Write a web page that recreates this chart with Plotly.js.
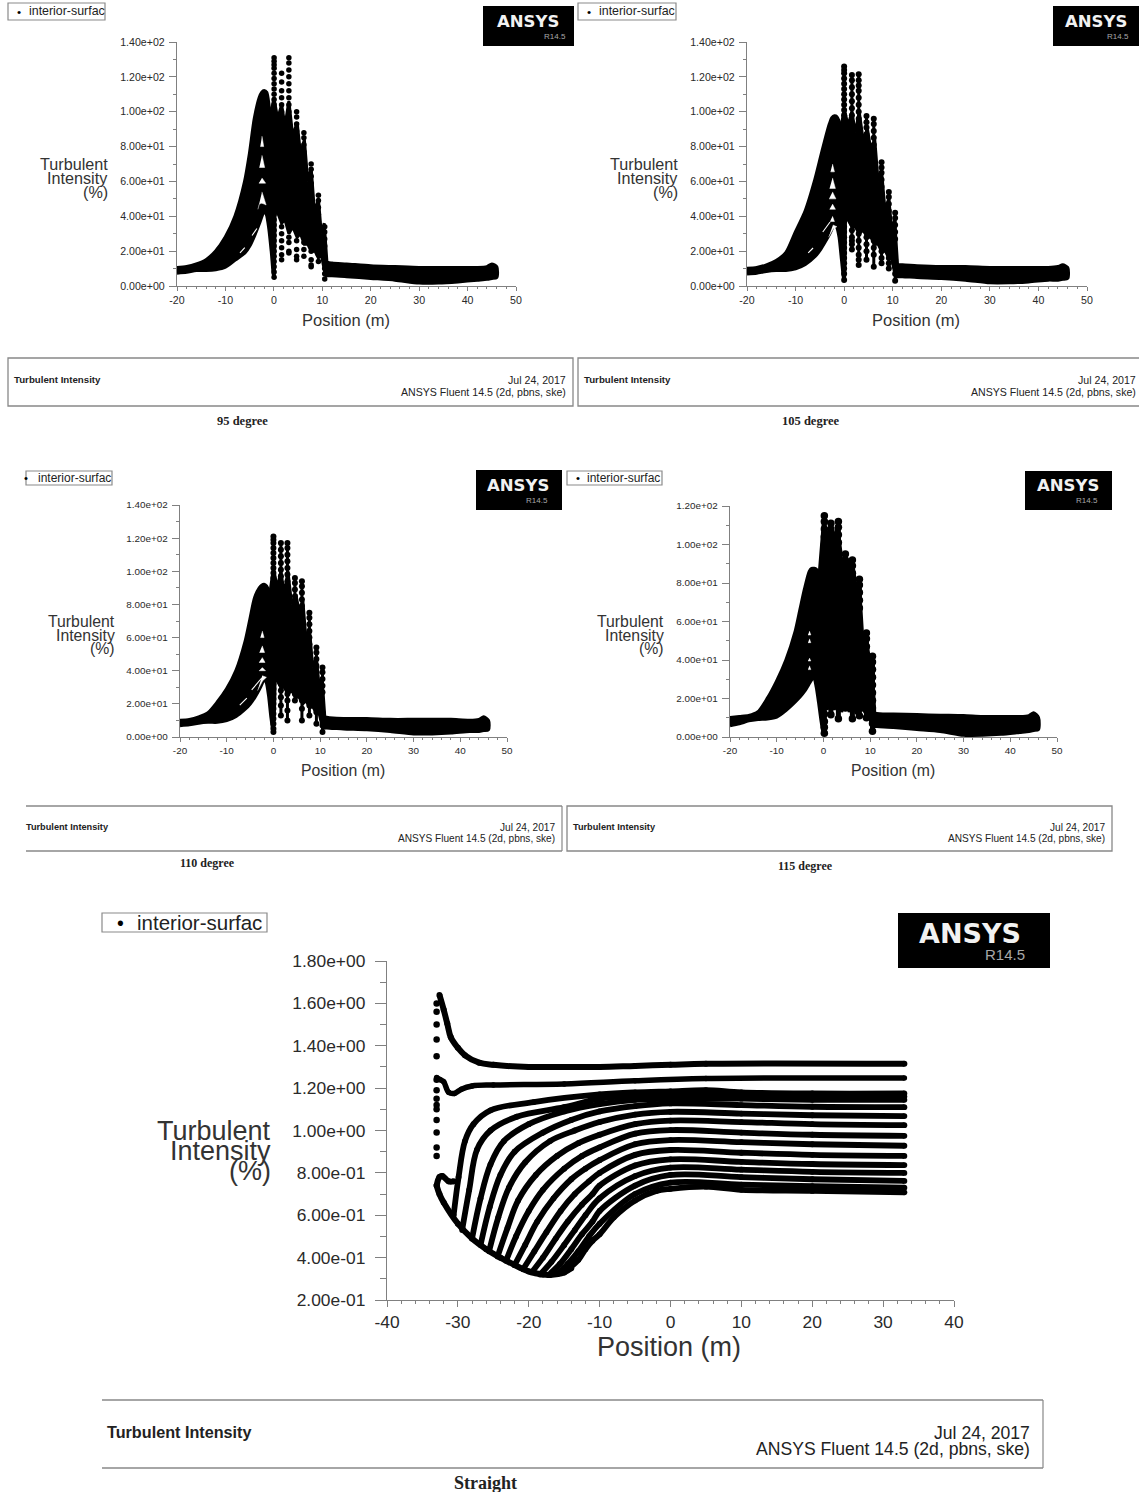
<!DOCTYPE html>
<html><head><meta charset="utf-8">
<script src="https://cdn.plot.ly/plotly-3.0.1.min.js"></script>
<style>html,body{margin:0;padding:0;background:#fff}#c{width:1139px;height:1492px}</style></head>
<body><div id="c"></div>
<script>
// ---------- tick labels ----------
const xTicksDeg=[-20,-10,0,10,20,30,40,50];
const yTicks140=[0,20,40,60,80,100,120,140];
const yText140=['0.00e+00','2.00e+01','4.00e+01','6.00e+01','8.00e+01','1.00e+02','1.20e+02','1.40e+02'];
const yTicks120=[0,20,40,60,80,100,120];
const yText120=['0.00e+00','2.00e+01','4.00e+01','6.00e+01','8.00e+01','1.00e+02','1.20e+02'];
const xTicksStraight=[-40,-30,-20,-10,0,10,20,30,40];
const yTicksStraight=[0.2,0.4,0.6,0.8,1.0,1.2,1.4,1.6,1.8];
const yTextStraight=['2.00e-01','4.00e-01','6.00e-01','8.00e-01','1.00e+00','1.20e+00','1.40e+00','1.60e+00','1.80e+00'];

// ---------- shared positions along the angled-case profiles ----------
const humpX=[-20,-18,-16,-14,-12,-10,-8,-6,-5,-4,-3,-2.5,-2,-1.5,-1,-0.5,0];
const coreX=[-1,0,0.8,1.6,2.3,3.1,3.9,4.8,5.5,6.3,7,7.7,8.4,9.2,9.8,10.4,11,10.5,9.8,9.2,8.5,7.7,7,6.3,5.5,4.8,3.9,3.1,2.3,1.6,0.8,0.1,-0.8];
const tailX=[10.5,12,15,20,25,30,34,38,42,44,45,46];

// ---------- 95 degree ----------
const hump95Top=[10.5,11,12.5,15,20,28,40,60,76,96,108,111,112,111,103,95,88];
const hump95Low=[7.5,8,9,9,9.5,11,15,19,23,29,36,40,43,41,33,20,5];
const core95Y=[92,108,96,104,92,106,86,94,76,84,60,68,42,50,30,36,12,8,18,16,20,20,24,24,30,28,34,30,38,36,42,42,44];
const tail95Top=[14,13,12.5,11.5,11,10.5,10.5,10.5,10.5,11,12.5,11];
const tail95Low=[6,6,5.5,4.5,3.5,1.8,1.8,2.5,3.5,4,4.5,5];
const col95X=[0.05,1.6,3.1,4.7,6.2,7.7,9.2,10.5];
const col95Y=[
 [131,129,127,125,122,119,116,113,110,107,104,101,98,95,44,41,38,35,32,29,26,23,20,17,14,11,8,5],
 [122,117,112,108,104,100,96,92,88,34,30,26,22,18,15],
 [131,128,124,120,116,112,108,104,100,96,92,88,84,80,28,25,20,19],
 [100,97,93,89,85,81,77,73,69,32,26,21,17,15],
 [88,85,81,77,73,69,65,30,25,21,17],
 [70,67,63,59,55,51,26,20,15,12,11],
 [52,49,45,41,37,22,18,14],
 [34,31,27,23,14,10,7,4]];
const hole95X=[-2.45,-2.1,-2.8,null,-2.45,-1.9,-3,null,-2.45,-1.7,-3.1,null,-2.45,-1.6,-2,-2.5,-3,-3.3];
const hole95Y=[86,80,80,null,75,68,68,null,62,59,59,null,54,46.5,47,47.5,47,44];
const flank95X=[-7,-6,null,-4.5,-3.5];
const flank95Y=[19,22,null,29,33];

// ---------- 105 degree ----------
const hump105Top=[10,10.5,12,14.5,19,31,43,61,72,83,93,96.5,97.5,97,94,90,85];
const hump105Low=[7,7.5,8.5,9,9,10,12.5,17,20.5,25,30,33,36,34,28,15,3];
const core105Y=[84,102,92,100,88,100,84,90,78,84,60,66,44,50,32,38,12,6,16,16,20,20,24,24,28,28,32,30,34,34,38,38,40];
const tail105Top=[12,12,11.5,11,11,10.5,10.5,10.5,10.5,11,12,10.5];
const tail105Low=[5.5,5.5,5,4.5,3.5,2,2,2.5,3.5,3.5,4,4.5];
const col105X=[0,1.6,3,4.6,6.1,7.7,9.2,10.5];
const col105Y=[
 [126,124,122,119,116,113,110,107,104,101,98,95,92,89,40,37,34,31,28,25,22,19,16,13,10,7,3.5],
 [121,118,114,110,106,102,98,94,90,36,32,28,26,24,21],
 [121.5,118,115,112,108,104,100,96,92,88,84,30,26,22,18,15,12],
 [97.5,94,91,87,83,79,75,32,28,24,20,15],
 [96,93,89,85,81,77,73,30,26,22,18,11],
 [71,68,65,61,57,28,24,20,16,13],
 [54,51,47,43,39,24,20,16,13,10],
 [42,39,35,31,27,15,11,7,3]];
const hole105X=[-2.4,-2,-2.8,null,-2.4,-1.8,-3,null,-2.4,-1.7,-3.1,null,-2.4,-1.8,-3,null,-2.4,-2,-2.9,null,-2.3,-1.5,-2.2,-3.2];
const hole105Y=[70,65.5,65.5,null,62,56,56,null,54,50,50,null,47,44,44,null,40,37,37,null,35,34,33,28];
const flank105X=[-7.4,-6.4,null,-4.4,-2.9];
const flank105Y=[19,21.8,null,31,36.7];

// ---------- 110 degree ----------
const hump110Top=[10,10.5,12,14.5,21,29,40,58,71,84,90,91.5,92,91,88,84,82];
const hump110Low=[7,7.5,8.5,9,9,10,12.5,17,20,24,29,32,35,33,25,12,3];
const core110Y=[82,102,90,100,86,100,80,86,76,82,58,66,42,48,30,36,12,6,14,14,18,18,22,20,24,24,28,26,30,30,34,34,36];
const tail110Top=[12,11.5,11,11,10.5,10.5,10.5,10.5,10,10.5,12,10];
const tail110Low=[5.5,5.5,5,4.5,3.5,2,2,2.5,3.5,3.5,4,4.5];
const col110X=[0,1.6,3,4.6,6.1,7.7,9.2,10.5];
const col110Y=[
 [121,119,117,114,111,108,105,102,99,96,93,90,87,84,38,35,32,29,26,23,20,17,14,11,8,5,3],
 [117,113,109,105,101,97,93,89,85,36,32,28,24,19,13],
 [117,114,110,106,102,98,94,90,86,82,30,26,22,16,10],
 [96,93,89,85,81,77,73,32,28,26,22],
 [94,91,87,83,79,75,71,30,26,22,17,10],
 [75,72,68,64,60,56,28,24,19,13],
 [54,51,47,43,39,24,20,15,8],
 [42,39,35,31,27,15,11,7,3]];
const hole110X=[-2.4,-2,-2.8,null,-2.4,-1.9,-3,null,-2.4,-1.8,-3.1,null,-2.4,-1.7,-3.1,null,-2.4,-1.5,-2.3,-3.4];
const hole110Y=[64,60,60,null,55,51,51,null,48,45,45,null,42,40,40,null,37,36,34,28];
const flank110X=[-7.2,-5.7,null,-4.65,-2.5];
const flank110Y=[19.3,23.5,null,28.4,35.6];

// ---------- 115 degree ----------
const hump115Top=[10,10.5,11,13,20,29,40,55,66,77,86,87.5,87.5,87,85,84,86];
const hump115Low=[6,7,8.5,9.2,9.5,10.5,14,18.5,21,24,28,30,31,26,18,9,2];
const core115Y=[82,112,104,110,104,110,92,93,90,90,78,80,52,53,40,41,12,4,11,12,14,14,12,18,13,20,13,24,14,24,14,30,28];
const tail115Top=[12.5,12,11.8,11.5,11.2,11,10.5,10.5,10.5,11,12.5,10];
const tail115Low=[5.5,5.5,5,4,3,1,1,1.5,2.5,3,3.5,4];
const col115X=[0.2,1.6,3.2,4.7,6.2,7.7,9.2,10.5];
const col115Y=[
 [115,112,108,104,100,96,92,88,84,80,40,36,32,28,24,20,16,12,8,5,2],
 [111,108,104,100,96,30,26,22,16,11.5],
 [112,109,105,101,97,93,30,25,20,15.5,9.5],
 [95,92,88,84,30,25,20,15],
 [92,89,85,81,30,24,20,15,9.5],
 [82,79,75,71,67,28,24,20,15,11],
 [54,51,47,43,25,20,15,10],
 [42,39,35,31,27,23,19,15,11,7,3]];
const hole115X=[-3,-2.7,-3.3,null,-3,-2.7,-3.3,null,-3,-2.7,-3.3,null,-3,-2.7,-3.3];
const hole115Y=[55,53,53,null,51,49,49,null,41,39.5,39.5,null,37,35,35];
const flank115X=[];
const flank115Y=[];

// ---------- straight: single-profile curves ----------
const topCurveX=[-32.6,-32,-31.5,-31,-30,-29,-27,-25,-20,-15,-10,-5,0,5,33];
const topCurveY=[1.64,1.57,1.505,1.44,1.39,1.355,1.32,1.31,1.30,1.30,1.30,1.305,1.31,1.315,1.315];
const secondCurveX=[-33,-32.5,-32,-31.3,-30.5,-29.5,-28,-25,-15,-5,5,33];
const secondCurveY=[1.25,1.24,1.23,1.18,1.175,1.195,1.21,1.215,1.22,1.235,1.245,1.248];
const edgeDotsX=[-33,-33,-33,-33,-33,-33,-33,-33,-33,-33,-33,-33,-33,-33];
const edgeDotsY=[0.88,0.92,0.99,1.05,1.1,1.12,1.15,1.19,1.24,1.35,1.43,1.5,1.56,1.6];
const envelopeX=[-33,-32.6,-32,-30,-28,-26,-24,-22,-20,-18,-17,-15,-14];
const envelopeY=[0.74,0.70,0.66,0.56,0.49,0.44,0.40,0.365,0.335,0.32,0.318,0.33,0.35];
const bumpX=[-33,-32.6,-32.2,-31.3,-30.6];
const bumpY=[0.74,0.78,0.785,0.76,0.76];
// ---------- straight: family of rising curves ----------
const fam1X=[-30.6,-29.9,-29,-27.8,-25.4,-19.3,-10,-5,0,5,10,20,33];
const fam1Y=[0.60,0.78,0.95,1.03,1.095,1.134,1.17,1.18,1.185,1.19,1.18,1.175,1.175];
const fam2X=[-29.4,-28.4,-27.3,-25.4,-21.7,-15,-10,-5,0,10,20,33];
const fam2Y=[0.53,0.72,0.91,1.0,1.065,1.11,1.15,1.165,1.17,1.165,1.16,1.16];
const fam3X=[-28,-26.8,-25.4,-23.5,-20,-15,-10,-5,0,10,20,33];
const fam3Y=[0.49,0.68,0.84,0.95,1.03,1.09,1.125,1.145,1.15,1.15,1.145,1.145];
const fam4X=[-26.8,-25.5,-24,-22,-18,-14,-10,-5,0,10,20,33];
const fam4Y=[0.46,0.64,0.79,0.90,0.99,1.05,1.09,1.115,1.128,1.12,1.112,1.11];
const fam5X=[-25.6,-24.3,-22.8,-20.5,-17,-13.5,-10,-5,0,10,20,33];
const fam5Y=[0.43,0.59,0.73,0.85,0.95,1.0,1.04,1.075,1.088,1.08,1.072,1.068];
const fam6X=[-24.4,-23,-21.5,-19,-16,-13,-10,-5,0,10,20,33];
const fam6Y=[0.405,0.54,0.67,0.79,0.88,0.94,0.98,1.03,1.047,1.04,1.03,1.025];
const fam7X=[-23.2,-21.8,-20,-18,-15,-12.5,-10,-5,0,10,20,33];
const fam7Y=[0.385,0.50,0.62,0.72,0.82,0.88,0.92,0.985,1.002,0.99,0.98,0.975];
const fam8X=[-22,-20.5,-18.8,-16.5,-14,-12,-10,-5,0,10,20,33];
const fam8Y=[0.365,0.46,0.57,0.68,0.77,0.82,0.86,0.935,0.955,0.945,0.935,0.928];
const fam9X=[-20.8,-19.2,-17.5,-15.5,-13.5,-11.5,-10,-5,0,10,20,33];
const fam9Y=[0.345,0.43,0.52,0.62,0.70,0.76,0.80,0.885,0.908,0.895,0.885,0.88];
const fam10X=[-19.6,-18,-16.2,-14.5,-12.5,-11,-10,-5,0,10,20,33];
const fam10Y=[0.33,0.40,0.49,0.57,0.65,0.70,0.74,0.835,0.864,0.852,0.842,0.837];
const fam11X=[-18.4,-16.8,-15,-13.5,-12,-10,-5,0,10,20,33];
const fam11Y=[0.32,0.38,0.46,0.53,0.60,0.68,0.785,0.825,0.815,0.805,0.80];
const fam12X=[-17.2,-15.6,-14,-12.5,-11,-10,-5,0,10,20,33];
const fam12Y=[0.318,0.37,0.44,0.51,0.57,0.62,0.74,0.79,0.78,0.77,0.762];
const fam13X=[-16,-14.5,-13,-11.5,-10,-5,0,10,20,33];
const fam13Y=[0.322,0.37,0.43,0.50,0.56,0.70,0.754,0.745,0.737,0.73];
const fam14X=[-14.5,-13,-12,-11,-10,-8,-5,-2,0,5,10,20,33];
const fam14Y=[0.345,0.39,0.44,0.48,0.51,0.59,0.67,0.715,0.725,0.735,0.72,0.715,0.708];

// ---------- texts ----------
const legendLabel='interior-surfac';
const yTitleLines=['Turbulent','Intensity','(%)'];
const xTitleText='Position (m)';
const footerLeft='Turbulent Intensity';
const footerDate='Jul 24, 2017';
const footerSolver='ANSYS Fluent 14.5 (2d, pbns, ske)';
const captions=['95 degree','105 degree','110 degree','115 degree','Straight'];

// ---------- page geometry helpers ----------
const W=1139,H=1492;
const fx=p=>p/W, fy=p=>1-p/H;
const traces=[], shapes=[], notes=[], layout={};
const SANS='"Liberation Sans",Arial,sans-serif', SERIF='"Liberation Serif",serif', LOGO='"DejaVu Sans",sans-serif';
function note(x,y,text,size,anchor,o){o=o||{};notes.push({xref:'paper',yref:'paper',x:fx(x),y:fy(y),text:text,showarrow:false,xanchor:anchor||'left',yanchor:'middle',
  font:{family:o.family||SANS,size:size,color:o.color||'#222'},borderpad:0,borderwidth:0});}
function rect(x0,y0,x1,y1,o){o=o||{};shapes.push({type:'rect',xref:'paper',yref:'paper',x0:fx(x0),x1:fx(x1),y0:fy(y0),y1:fy(y1),
  fillcolor:o.fill||'rgba(0,0,0,0)',line:{color:o.line||'#777',width:o.width===undefined?1.3:o.width},layer:'below'});}
function hline(x0,x1,y,c,w){shapes.push({type:'line',xref:'paper',yref:'paper',x0:fx(x0),x1:fx(x1),y0:fy(y),y1:fy(y),line:{color:c||'#888',width:w||1.5}});}
function vline(x,y0,y1,c,w){shapes.push({type:'line',xref:'paper',yref:'paper',x0:fx(x),x1:fx(x),y0:fy(y0),y1:fy(y1),line:{color:c||'#888',width:w||1.2}});}

function axes(n,g){
  const sx=n===1?'':n, common={showgrid:false,zeroline:false,showline:true,linecolor:'#808080',linewidth:1.2,ticks:'outside',tickcolor:'#808080',
     tickmode:'array',tickfont:{family:SANS,size:g.tick,color:'#2a2a2a'},fixedrange:true};
  layout['xaxis'+sx]=Object.assign({},common,{domain:[fx(g.x0),fx(g.x1)],range:g.xr,anchor:'y'+sx,tickvals:g.xt,ticktext:g.xt.map(String),ticklen:g.xl,
     minor:{ticks:'outside',ticklen:g.xm,dtick:g.xminor,tick0:g.xr[0],tickcolor:'#808080',showgrid:false}});
  layout['yaxis'+sx]=Object.assign({},common,{domain:[fy(g.y0),fy(g.y1)],range:g.yr,anchor:'x'+sx,tickvals:g.yt,ticktext:g.ytext,ticklen:g.yl,ticklabelstandoff:g.ys||0,
     minor:{ticks:'outside',ticklen:g.ym,dtick:g.yminor,tick0:g.yr[0],tickcolor:'#808080',showgrid:false}});
  return {xaxis:'x'+sx,yaxis:'y'+sx};
}
function poly(a,x,y,color,lw,curved){traces.push(Object.assign({type:'scatter',mode:'lines',x:x,y:y,fill:'toself',fillcolor:color,line:{color:color,width:lw,shape:curved?'spline':'linear',smoothing:0.7},hoverinfo:'skip',cliponaxis:false},a));}
function degreePanel(n,g,top,low,core,tt,tl,cx,cy,hx,hy,fkx,fky,ms,beadLine){
  const a=axes(n,g);
  poly(a,humpX.concat(humpX.slice().reverse()),top.concat(low.slice().reverse()),'#000',3.5,true);
  poly(a,coreX,core,'#000',3,false);
  poly(a,tailX.concat(tailX.slice().reverse()),tt.concat(tl.slice().reverse()),'#000',3.5,true);
  poly(a,hx,hy,'#fff',0.5,false);
  if(fkx.length) traces.push(Object.assign({type:'scatter',mode:'lines',x:fkx,y:fky,line:{color:'#fff',width:1.1},hoverinfo:'skip',cliponaxis:false},a));
  const dx=[],dy=[];
  cx.forEach((v,i)=>{cy[i].forEach(w=>{dx.push(v);dy.push(w);});dx.push(null);dy.push(null);});
  traces.push(Object.assign({type:'scatter',mode:beadLine?'lines+markers':'markers',x:dx,y:dy,line:{color:'#000',width:beadLine},marker:{color:'#000',size:ms},connectgaps:false,hoverinfo:'skip',cliponaxis:false},a));
}
function chrome(o){
  rect(o.lx0,o.ly0,o.lx1,o.ly1,{line:'#8a8a8a',width:1.2});
  note(o.lx0+o.ldot,(o.ly0+o.ly1)/2,'•',o.lfs*0.95,'center',{color:'#000'});
  note(o.lx0+o.ltxt,(o.ly0+o.ly1)/2,legendLabel,o.lfs,'left',{color:'#222'});
  rect(o.bx0,o.by0,o.bx1,o.by1,{fill:'#000',line:'#000',width:0});
  note((o.bx0+o.bx1)/2-o.logoShift,o.by0+(o.by1-o.by0)*0.38,'<b>ANSYS</b>',o.logoFs,'center',{family:LOGO,color:'#f2f2f2'});
  note(o.bx1-o.rPad,o.by0+(o.by1-o.by0)*0.76,'R14.5',o.rFs,'right',{color:'#a8a8a8'});
  yTitleLines.forEach((t,i)=>note(o.tx,o.ty+i*o.tdy,t,o.tfs,'right',{color:'#333'}));
  note(o.xtx,o.xty,xTitleText,o.xfs,'center',{color:'#333'});
  if(o.fLeftOpen){hline(o.fx0,o.fx1,o.fy0);hline(o.fx0,o.fx1,o.fy1);vline(o.fx1,o.fy0,o.fy1);}
  else rect(o.fx0,o.fy0,o.fx1,o.fy1,{line:'#888',width:1.3});
  note(o.fx0+o.f1,o.fyl,'<b>'+footerLeft+'</b>',o.ffs,'left',{color:'#222'});
  note(o.fr,o.fyd,footerDate,o.frs,'right',{color:'#222'});
  note(o.fr,o.fys,footerSolver,o.frs,'right',{color:'#222'});
  note(o.cx,o.cy,'<b>'+o.cap+'</b>',o.cfs,'center',{family:SERIF,color:'#222'});
}

// ---------- panels ----------
const smallAxis=(x0,x1,y0,y1,yr,yt,ytext,tick)=>({x0,x1,y0,y1,xr:[-20,50],yr,xt:xTicksDeg,yt,ytext,tick,xl:4,xm:2,xminor:2,yl:7,ym:3,yminor:10,ys:2});
degreePanel(1,smallAxis(177,516,286,42,[0,140],yTicks140,yText140,10.6),hump95Top,hump95Low,core95Y,tail95Top,tail95Low,col95X,col95Y,hole95X,hole95Y,flank95X,flank95Y,5.5,0);
degreePanel(2,smallAxis(747,1087,286,42,[0,140],yTicks140,yText140,10.6),hump105Top,hump105Low,core105Y,tail105Top,tail105Low,col105X,col105Y,hole105X,hole105Y,flank105X,flank105Y,6,3);
degreePanel(3,smallAxis(180,507,737,505,[0,140],yTicks140,yText140,9.9),hump110Top,hump110Low,core110Y,tail110Top,tail110Low,col110X,col110Y,hole110X,hole110Y,flank110X,flank110Y,6,3);
degreePanel(4,smallAxis(730,1057,737,506,[0,120],yTicks120,yText120,9.9),hump115Top,hump115Low,core115Y,tail115Top,tail115Low,col115X,col115Y,hole115X,hole115Y,flank115X,flank115Y,7.5,5);

const straight=axes(5,{x0:387,x1:954,y0:1300,y1:961,xr:[-40,40],yr:[0.2,1.8],xt:xTicksStraight,yt:yTicksStraight,ytext:yTextStraight,tick:17.4,xl:6,xm:3,xminor:2,yl:11,ym:6,yminor:0.1,ys:6});
function curve(x,y,w){traces.push(Object.assign({type:'scatter',mode:'lines+markers',x:x,y:y,line:{color:'#000',width:w||6,shape:'spline',smoothing:1},marker:{color:'#000',size:w||6},hoverinfo:'skip',cliponaxis:false},straight));}
curve(topCurveX,topCurveY,6);curve(secondCurveX,secondCurveY,5.5);curve(bumpX,bumpY,6);curve(envelopeX,envelopeY,6);
[[fam1X,fam1Y],[fam2X,fam2Y],[fam3X,fam3Y],[fam4X,fam4Y],[fam5X,fam5Y],[fam6X,fam6Y],[fam7X,fam7Y],[fam8X,fam8Y],[fam9X,fam9Y],[fam10X,fam10Y],[fam11X,fam11Y],[fam12X,fam12Y],[fam13X,fam13Y],[fam14X,fam14Y]].forEach(c=>curve(c[0],c[1],5.8));
traces.push(Object.assign({type:'scatter',mode:'markers',x:edgeDotsX,y:edgeDotsY,marker:{color:'#000',size:6.5},hoverinfo:'skip',cliponaxis:false},straight));

chrome({lx0:8,ly0:3,lx1:105,ly1:20,ldot:11,ltxt:21,lfs:12.4,bx0:483,by0:6,bx1:574,by1:46,logoShift:1,logoFs:16.5,rPad:8,rFs:8,tx:108,ty:164,tdy:14.2,tfs:16.2,xtx:346,xty:320,xfs:16.5,
  fx0:8,fy0:358,fx1:573,fy1:406,f1:6,fyl:380,ffs:9.7,fr:566,fyd:380,fys:392,frs:10.6,cx:242,cy:421,cfs:12.5,cap:captions[0]});
chrome({lx0:578,ly0:3,lx1:676,ly1:20,ldot:11,ltxt:21,lfs:12.4,bx0:1053,by0:6,bx1:1139,by1:46,logoShift:0,logoFs:16.5,rPad:10,rFs:8,tx:678,ty:164,tdy:14.2,tfs:16.2,xtx:916,xty:320,xfs:16.5,
  fx0:578,fy0:358,fx1:1145,fy1:406,f1:6,fyl:380,ffs:9.7,fr:1136,fyd:380,fys:392,frs:10.6,cx:810,cy:421,cfs:12.5,cap:captions[1]});
chrome({lx0:26,ly0:471,lx1:112,ly1:485,ldot:0,ltxt:12,lfs:12,bx0:476,by0:470,bx1:562,by1:510,logoShift:1,logoFs:16.5,rPad:14,rFs:8,tx:115,ty:622,tdy:13.2,tfs:15.8,xtx:343,xty:770,xfs:15.8,
  fLeftOpen:true,fx0:26,fy0:806,fx1:562,fy1:851,f1:0,fyl:827,ffs:9.2,fr:555,fyd:827,fys:838,frs:10.1,cx:207,cy:863,cfs:12,cap:captions[2]});
chrome({lx0:567,ly0:471,lx1:662,ly1:485,ldot:11,ltxt:20,lfs:12,bx0:1025,by0:471,bx1:1112,by1:510,logoShift:1,logoFs:16.5,rPad:14,rFs:8,tx:664,ty:622,tdy:13.2,tfs:15.8,xtx:893,xty:770,xfs:15.8,
  fx0:567,fy0:806,fx1:1112,fy1:851,f1:6,fyl:827,ffs:9.2,fr:1105,fyd:827,fys:838,frs:10.1,cx:805,cy:866,cfs:12,cap:captions[3]});
chrome({lx0:102,ly0:913,lx1:267,ly1:932,ldot:18,ltxt:35,lfs:20.5,bx0:898,by0:913,bx1:1050,by1:968,logoShift:4,logoFs:27,rPad:25,rFs:15,tx:271,ty:1131,tdy:20,tfs:27,xtx:669,xty:1347,xfs:27,
  fLeftOpen:true,fx0:102,fy0:1400,fx1:1043,fy1:1468,f1:5,fyl:1432,ffs:16.2,fr:1030,fyd:1433,fys:1449,frs:17.6,cx:485,cy:1483,cfs:18,cap:captions[4]});

Object.assign(layout,{width:W,height:H,margin:{l:0,r:0,t:0,b:0,pad:0},paper_bgcolor:'#fff',plot_bgcolor:'#fff',showlegend:false,shapes:shapes,annotations:notes,hovermode:false});
Plotly.newPlot('c',traces,layout,{displayModeBar:false,staticPlot:true,responsive:false});
</script></body></html>
